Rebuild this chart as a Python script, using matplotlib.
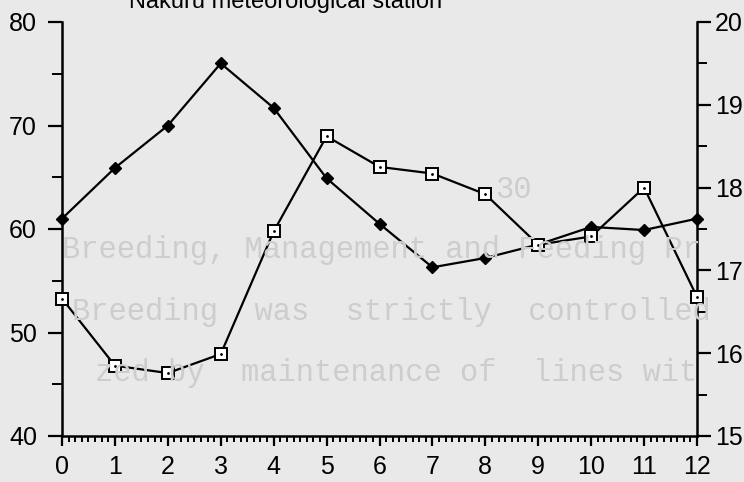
import numpy as np
import matplotlib.pyplot as plt
from matplotlib.ticker import MultipleLocator

# months / sampling points
x = [0, 1, 2, 3, 4, 5, 6, 7, 8, 9, 10, 11, 12]

# filled diamonds, left axis
humidity = [61.0, 65.9, 70.0, 76.0, 71.7, 64.9, 60.5, 56.3, 57.2, 58.5, 60.2, 59.9, 61.0]

# open squares, right axis
temperature = [16.66, 15.85, 15.76, 15.99, 17.47, 18.62, 18.25, 18.17, 17.92, 17.31, 17.41, 18.0, 16.68]

title = "Nakuru meteorological station"

# faint text of the scanned page showing through
page_lines = [
    "Breeding, Management and Feeding Pr",
    "Breeding  was  strictly  controlled",
    "zed by  maintenance of  lines wit",
]

plt.rcParams['font.family'] = ['Liberation Sans', 'DejaVu Sans']

fig = plt.figure(figsize=(7.44, 4.82), dpi=100)
fig.patch.set_facecolor('#e9e9e9')

# scanned page text in the background
ghost = dict(family='Liberation Mono', fontsize=22, color='#cdcdcd',
             va='center', ha='left', zorder=0)
fig.text(495 / 744, 1 - 190 / 482, "30", **ghost)
fig.text(62 / 744, 1 - 250 / 482, page_lines[0], **ghost)
fig.text(72 / 744, 1 - 312 / 482, page_lines[1], **ghost)
fig.text(95 / 744, 1 - 373 / 482, page_lines[2], **ghost)

ax = fig.add_axes([62 / 744, 1 - 436 / 482, 635 / 744, 414 / 482])
ax.patch.set_alpha(0)
ax2 = ax.twinx()
ax2.patch.set_alpha(0)

ax.plot(x, humidity, color='black', lw=1.6, marker='D', ms=6,
        mfc='black', mec='black', clip_on=False, zorder=3)
ax2.plot(x, temperature, color='black', lw=1.6, marker='s', ms=8,
         mfc='white', mec='black', mew=1.4, clip_on=False, zorder=3)
# small dot inside the open squares
ax2.plot(x, temperature, ls='none', marker='.', ms=2, color='black',
         clip_on=False, zorder=4)

ax.set_xlim(0, 12)
ax.set_ylim(40, 80)
ax2.set_ylim(15, 20)

ax.xaxis.set_major_locator(MultipleLocator(1))
ax.xaxis.set_minor_locator(MultipleLocator(0.125))
ax.yaxis.set_major_locator(MultipleLocator(10))
ax.yaxis.set_minor_locator(MultipleLocator(5))
ax2.yaxis.set_major_locator(MultipleLocator(1))
ax2.yaxis.set_minor_locator(MultipleLocator(0.5))

for a in (ax, ax2):
    a.spines['top'].set_visible(False)
    for s in a.spines.values():
        s.set_linewidth(1.8)
    a.tick_params(which='major', direction='out', length=10, width=1.6,
                  labelsize=18, pad=3)
    a.tick_params(which='minor', direction='out', length=7, width=1.4)
ax.spines['right'].set_visible(False)
ax2.spines['left'].set_visible(False)
ax2.spines['bottom'].set_visible(False)
ax.tick_params(axis='y', which='major', pad=8)
ax.tick_params(axis='x', which='major', length=7, pad=7)
ax.tick_params(axis='x', which='minor', length=4)

fig.text(286 / 744, 1 - 8 / 482, title, ha='center', va='baseline',
         fontsize=17)

fig.savefig('out.png', dpi=100, facecolor=fig.get_facecolor())
